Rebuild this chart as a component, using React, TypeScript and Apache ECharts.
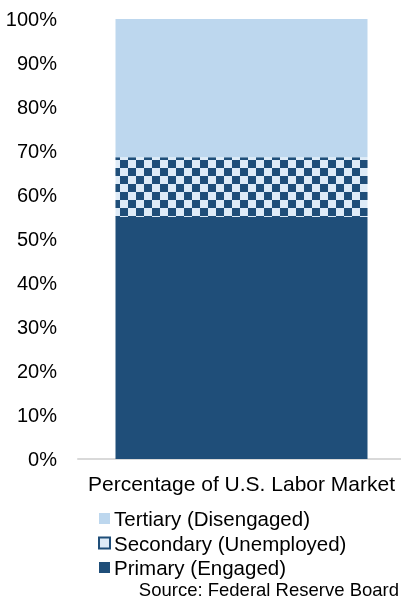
import React, { useEffect, useRef } from "react";
import * as echarts from "echarts";

const categories = ["Percentage of U.S. Labor Market"];
const primaryValues = [55.0];
const secondaryValues = [13.6];
const tertiaryValues = [31.4];
const legendOrder = ["Tertiary (Disengaged)", "Secondary (Unemployed)", "Primary (Engaged)"];
const sourceText = "Source: Federal Reserve Board";

const DARK = "#1F4E79";
const LIGHT = "#DEEBF7";
const TERT = "#BDD7EE";
const FONT = "'Liberation Sans', Arial, sans-serif";

export default function App() {
  const ref = useRef<HTMLDivElement>(null);
  useEffect(() => {
    if (!ref.current) return;
    const chart = echarts.init(ref.current, null, { renderer: "svg" });
    chart.setOption({
      animation: false,
      textStyle: { fontFamily: FONT },
      grid: { left: 78, right: 0, top: 19, bottom: 149, containLabel: false },
      xAxis: {
        type: "category",
        data: categories,
        axisLine: { show: true, lineStyle: { color: "#D9D9D9", width: 2 } },
        axisTick: { show: false },
        axisLabel: { color: "#000", fontSize: 21, fontFamily: FONT, margin: 14 },
      },
      yAxis: {
        type: "value",
        min: 0,
        max: 100,
        interval: 10,
        splitLine: { show: false },
        axisLine: { show: false },
        axisTick: { show: false },
        axisLabel: { color: "#000", fontSize: 20, fontFamily: FONT, margin: 21, formatter: "{value}%" },
      },
      legend: {
        orient: "vertical",
        left: 93,
        top: 503,
        icon: "rect",
        itemWidth: 11,
        itemHeight: 11,
        itemGap: 3.5,
        textStyle: { color: "#000", fontSize: 20.5, fontFamily: FONT, padding: [0, 0, 0, -1] },
        data: [
          { name: legendOrder[0], itemStyle: { color: TERT } },
          { name: legendOrder[1], itemStyle: { color: LIGHT, borderColor: DARK, borderWidth: 2, decal: "none" } },
          { name: legendOrder[2], itemStyle: { color: DARK } },
        ],
      },
      graphic: [
        {
          type: "text",
          right: 6,
          top: 580,
          style: { text: sourceText, fontSize: 18.5, fontFamily: FONT, fill: "#000" },
        },
      ],
      series: [
        {
          name: legendOrder[2],
          type: "bar",
          stack: "total",
          barWidth: 252,
          data: primaryValues,
          itemStyle: { color: DARK },
        },
        {
          name: legendOrder[1],
          type: "bar",
          stack: "total",
          barWidth: 252,
          data: secondaryValues,
          itemStyle: {
            color: LIGHT,
            decal: {
              symbol: "rect",
              symbolSize: 1,
              color: DARK,
              dashArrayX: [[8, 8], [0, 8, 8, 0]],
              dashArrayY: [8, 0],
              rotation: 0,
            },
          },
        },
        {
          name: legendOrder[0],
          type: "bar",
          stack: "total",
          barWidth: 252,
          data: tertiaryValues,
          itemStyle: { color: TERT },
        },
      ],
    });
    return () => chart.dispose();
  }, []);
  return <div ref={ref} style={{ position: "fixed", left: 0, top: 0, width: 405, height: 608 }} />;
}
